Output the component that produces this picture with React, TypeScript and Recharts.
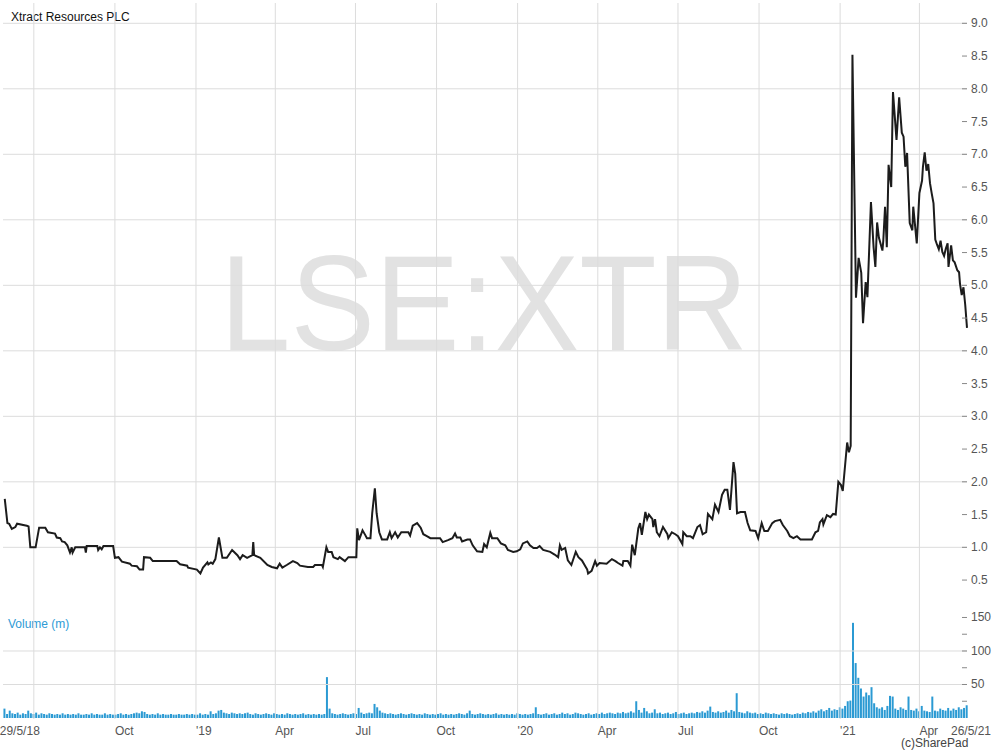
import { ComposedChart, Line, Bar, XAxis, YAxis, ReferenceLine } from 'recharts';

// day 0 = 29/5/18
const price2018: [number, number][] = [
  [0, 1.74], [3, 1.37], [5, 1.36], [8, 1.28], [12, 1.31], [14, 1.36], [25, 1.33], [27, 1.32], [29, 1.0],
  [35, 1.0], [39, 1.3], [46, 1.3], [49, 1.23], [57, 1.21], [59, 1.15], [63, 1.14], [65, 1.09], [68, 1.08],
  [71, 1.03], [74, 0.92], [76, 1.0], [77, 0.92], [80, 1.0], [91, 1.0], [92, 0.92], [93, 1.02], [105, 1.02],
  [106, 0.96], [108, 1.0], [110, 0.97], [112, 1.02], [123, 1.02], [125, 0.84], [129, 0.85], [133, 0.78],
  [139, 0.76], [142, 0.75], [144, 0.72], [150, 0.71], [153, 0.66], [157, 0.66], [158, 0.85], [165, 0.84],
  [168, 0.79], [195, 0.79], [199, 0.74], [207, 0.72], [208, 0.69],
];
const price2019: [number, number][] = [
  [218, 0.66], [222, 0.6], [225, 0.69], [230, 0.77], [231, 0.74], [234, 0.77], [236, 0.75], [239, 0.82],
  [243, 1.15], [247, 0.84], [252, 0.84], [258, 0.96], [264, 0.88], [267, 0.82], [270, 0.88], [275, 0.84],
  [281, 0.88], [282, 1.08], [283, 0.88], [290, 0.84], [298, 0.73], [303, 0.7], [309, 0.68], [312, 0.75],
  [315, 0.69], [320, 0.73], [327, 0.79], [332, 0.76], [335, 0.72], [344, 0.7], [350, 0.7], [352, 0.73],
  [360, 0.73], [361, 0.7], [365, 1.0], [367, 0.93], [371, 0.93], [373, 0.85], [378, 0.82], [380, 0.85],
  [386, 0.79], [390, 0.85], [399, 0.85], [400, 1.29], [402, 1.11], [406, 1.26], [409, 1.19], [411, 1.14],
  [415, 1.14], [417, 1.52], [420, 1.9], [422, 1.52], [425, 1.23], [428, 1.12], [434, 1.12], [437, 1.23],
  [439, 1.14], [443, 1.23], [446, 1.15], [450, 1.23], [458, 1.23], [460, 1.18], [463, 1.33], [468, 1.37],
  [472, 1.3], [475, 1.2], [479, 1.17], [483, 1.14], [494, 1.14], [497, 1.08], [503, 1.11], [508, 1.14],
  [511, 1.21], [513, 1.15], [517, 1.15], [519, 1.09], [525, 1.12], [528, 1.12], [531, 1.03], [536, 0.94],
  [542, 0.93], [544, 1.05], [547, 1.0], [551, 1.22], [553, 1.14], [559, 1.14], [563, 1.06], [568, 1.03],
  [571, 0.96], [577, 0.93],
];
const price2020: [number, number][] = [
  [581, 0.94], [585, 0.97], [588, 1.06], [593, 1.09], [596, 1.03], [600, 0.99], [604, 0.99], [607, 1.02],
  [611, 0.96], [619, 0.93], [624, 0.89], [628, 0.85], [630, 1.03], [632, 0.96], [636, 0.99], [639, 0.8],
  [643, 0.73], [645, 0.81], [648, 0.93], [651, 0.85], [655, 0.8], [661, 0.66], [662, 0.6], [666, 0.64],
  [670, 0.79], [672, 0.72], [675, 0.76], [683, 0.75], [689, 0.82], [693, 0.79], [696, 0.76], [701, 0.72],
  [702, 0.79], [707, 0.79], [710, 0.72], [712, 1.04], [715, 0.88], [719, 1.29], [721, 1.37], [723, 1.19],
  [727, 1.54], [729, 1.43], [731, 1.5], [735, 1.43], [736, 1.31], [738, 1.43], [740, 1.23], [743, 1.17],
  [747, 1.31], [752, 1.2], [753, 1.14], [757, 1.23], [761, 1.2], [764, 1.17], [769, 1.05], [770, 1.23],
  [774, 1.17], [778, 1.17], [781, 1.14], [786, 1.31], [789, 1.34], [792, 1.2], [796, 1.23], [798, 1.51],
  [803, 1.43], [806, 1.65], [810, 1.54], [814, 1.8], [817, 1.88], [820, 1.88], [823, 1.57], [827, 2.3],
  [829, 2.12], [831, 1.52], [835, 1.54], [840, 1.54], [843, 1.37], [846, 1.26], [852, 1.25], [855, 1.14],
  [859, 1.37], [862, 1.25], [866, 1.25], [871, 1.37], [874, 1.4], [880, 1.42], [883, 1.34], [888, 1.25],
  [891, 1.17], [895, 1.14], [899, 1.17], [903, 1.12], [916, 1.12], [920, 1.23], [923, 1.25], [925, 1.38],
  [928, 1.43], [929, 1.35], [933, 1.49], [937, 1.46], [940, 1.51], [943, 1.5],
];
const price2021: [number, number][] = [
  [946, 2.0], [949, 1.95], [951, 1.86], [956, 2.6], [958, 2.45], [960, 2.55], [962, 8.52], [966, 4.81],
  [969, 5.42], [972, 5.19], [974, 4.42], [977, 5.05], [979, 4.82], [980, 5.19], [983, 6.27], [986, 5.58],
  [988, 5.28], [990, 5.96], [992, 5.73], [996, 5.53], [997, 5.68], [999, 6.2], [1001, 5.58], [1003, 6.84],
  [1006, 6.5], [1008, 7.95], [1012, 7.22], [1015, 7.87], [1018, 7.33], [1020, 7.27], [1022, 6.81],
  [1024, 7.02], [1027, 5.95], [1030, 5.84], [1031, 6.2], [1035, 5.64], [1038, 6.41], [1041, 6.6],
  [1042, 6.81], [1044, 7.03], [1046, 6.75], [1048, 6.85], [1050, 6.56], [1052, 6.4], [1054, 6.25],
  [1056, 5.7], [1058, 5.62], [1060, 5.55], [1062, 5.68], [1064, 5.51], [1066, 5.45], [1068, 5.56],
  [1070, 5.64], [1071, 5.28], [1073, 5.5], [1074, 5.61], [1076, 5.38], [1078, 5.35], [1081, 5.23],
  [1083, 5.2], [1084, 5.03], [1086, 4.85], [1088, 4.97], [1090, 4.7], [1092, 4.35],
];

// volume (m), one bar every 3 days from 29/5/18
const volumeStep = 3;
const volumes = [
  14, 6, 11, 7, 6, 8, 5, 7, 6, 11,
  7, 6, 8, 5, 7, 6, 5, 7, 6, 5,
  6, 5, 7, 5, 6, 5, 6, 5, 7, 5,
  5, 6, 5, 7, 5, 6, 5, 5, 7, 5,
  6, 5, 5, 6, 7, 5, 6, 5, 6, 7,
  8, 7, 10, 9, 6, 5, 6, 5, 7, 5,
  6, 5, 5, 6, 5, 5, 6, 5, 5, 6,
  5, 6, 5, 5, 7, 5, 6, 5, 10, 6,
  7, 11, 12, 8, 7, 6, 8, 7, 6, 7,
  6, 7, 8, 6, 5, 7, 6, 5, 6, 7,
  6, 5, 7, 6, 5, 6, 5, 7, 6, 5,
  6, 5, 6, 7, 5, 6, 5, 6, 5, 6,
  5, 6, 61, 14, 7, 6, 5, 6, 7, 6,
  5, 6, 7, 6, 15, 8, 6, 7, 8, 7,
  21, 16, 11, 8, 7, 6, 7, 6, 5, 6,
  7, 6, 5, 6, 7, 6, 5, 6, 5, 7,
  6, 5, 6, 5, 6, 7, 5, 6, 5, 6,
  5, 6, 7, 6, 5, 7, 11, 6, 5, 6,
  7, 6, 5, 6, 5, 6, 7, 5, 6, 5,
  6, 5, 6, 5, 7, 6, 5, 6, 5, 6,
  7, 16, 6, 5, 6, 7, 5, 6, 7, 5,
  6, 8, 6, 7, 5, 6, 8, 7, 6, 5,
  6, 7, 5, 6, 7, 6, 8, 6, 7, 8,
  7, 6, 8, 7, 9, 7, 8, 10, 8, 25,
  12, 8, 15, 10, 7, 8, 13, 7, 8, 6,
  7, 8, 6, 7, 9, 6, 7, 8, 6, 7,
  8, 7, 9, 8, 10, 8, 11, 17, 9, 8,
  10, 8, 9, 11, 8, 12, 10, 37, 9, 8,
  7, 10, 8, 7, 8, 6, 7, 6, 8, 7,
  6, 7, 6, 5, 7, 6, 7, 6, 5, 6,
  7, 6, 8, 7, 9, 8, 10, 8, 11, 13,
  10, 12, 15, 11, 13, 12, 16, 14, 18, 25,
  26, 142, 82, 60, 44, 32, 38, 34, 46, 22,
  16, 14, 16, 12, 18, 33, 32, 14, 12, 16,
  14, 12, 32, 12, 11, 14, 10, 18, 11, 10,
  9, 32, 11, 10, 14, 12, 11, 15, 11, 14,
  12, 16, 13, 15, 19,
];

const gridDays = [33, 125, 217, 307, 398, 490, 582, 673, 764, 856, 948, 1038];
const tickDays = [0, 125, 217, 307, 398, 490, 582, 673, 764, 856, 948, 1038, 1092];
const tickLabels = ['29/5/18', 'Oct', "'19", 'Apr', 'Jul', 'Oct', "'20", 'Apr', 'Jul', 'Oct', "'21", 'Apr', '26/5/21'];
const priceTicks = [0.5, 1, 1.5, 2, 2.5, 3, 3.5, 4, 4.5, 5, 5.5, 6, 6.5, 7, 7.5, 8, 8.5, 9];
const priceGrid = [1, 2, 3, 4, 5, 6, 7, 8, 9];
const volumeTicks = [25, 50, 75, 100, 125, 150];
const volumeLabels = [50, 100, 150];
const volumeGrid = [50, 100];

const priceData = [...price2018, ...price2019, ...price2020, ...price2021].map(([day, price]) => ({ day, price }));
const volumeData = volumes.map((volume, i) => ({ day: i * volumeStep, volume }));

const FONT = '"Liberation Sans", Arial, Helvetica, sans-serif';
const GRID = '#dcdcdc';
const DAY_DOMAIN: [number, number] = [-2, 1092];
const PRICE_DOMAIN: [number, number] = [-1.621, 9.31];
const VOLUME_DOMAIN: [number, number] = [-1.5, 1067];
const MARGIN = { top: 3, right: 0, bottom: 0, left: 3 };

const DateTick = (props: any) => {
  const { x, y, payload, index } = props;
  const i = tickDays.indexOf(payload.value);
  let anchor: 'start' | 'end' = 'start';
  let dx = 0;
  if (index === 0) dx = -5;
  if (i === tickDays.length - 1) {
    anchor = 'end';
    dx = 24;
  }
  return (
    <text x={x + dx} y={y + 16} textAnchor={anchor} fill="#555" fontSize={12} fontFamily={FONT}>
      {tickLabels[i]}
    </text>
  );
};

const PriceTick = (props: any) => {
  const { x, y, payload } = props;
  return (
    <g>
      <line x1={x - 5} x2={x} y1={y} y2={y} stroke="#888" />
      <text x={x + 4} y={y + 4} fill="#555" fontSize={12} fontFamily={FONT}>
        {payload.value.toFixed(1)}
      </text>
    </g>
  );
};

const VolumeTick = (props: any) => {
  const { x, y, payload } = props;
  return (
    <g>
      <line x1={x - 5} x2={x} y1={y} y2={y} stroke="#888" />
      {volumeLabels.includes(payload.value) && (
        <text x={x + 4} y={y + 4} fill="#555" fontSize={12} fontFamily={FONT}>
          {payload.value}
        </text>
      )}
    </g>
  );
};

export default function App() {
  return (
    <div style={{ position: 'absolute', left: 0, top: 0, width: 1000, height: 751, background: '#fff' }}>
      <svg width={1000} height={751} style={{ position: 'absolute', left: 0, top: 0 }}>
        <text x={484} y={350} textAnchor="middle" fontSize={136} fill="#e2e2e2" fontFamily={FONT}
          textLength={528} lengthAdjust="spacingAndGlyphs">
          LSE:XTR
        </text>
        <text x={11} y={21} fontSize={12} fill="#111" fontFamily={FONT}>Xtract Resources PLC</text>
        <text x={8} y={628} fontSize={12} fill="#2e9bd6" fontFamily={FONT}>Volume (m)</text>
        <text x={901} y={747} fontSize={12} fill="#444" fontFamily={FONT}>(c)SharePad</text>
      </svg>

      {/* volume panel, vertical gridlines and date axis */}
      <div style={{ position: 'absolute', left: 0, top: 0 }}>
        <ComposedChart width={1000} height={751} data={volumeData} margin={MARGIN}>
          <XAxis dataKey="day" type="number" domain={DAY_DOMAIN} ticks={tickDays} interval={0}
            tick={<DateTick />} tickSize={0} tickMargin={0} axisLine={false} tickLine={false} height={32} />
          <YAxis yAxisId="vol" orientation="right" width={33} type="number" domain={VOLUME_DOMAIN}
            ticks={volumeTicks} interval={0} tick={<VolumeTick />} tickSize={0} tickMargin={0}
            axisLine={false} tickLine={false} />
          {gridDays.map((d) => (
            <ReferenceLine key={'x' + d} x={d} yAxisId="vol" stroke={GRID} />
          ))}
          {volumeGrid.map((v) => (
            <ReferenceLine key={'v' + v} y={v} yAxisId="vol" stroke={GRID} />
          ))}
          <Bar dataKey="volume" yAxisId="vol" fill="#2b9ad3" barSize={2} isAnimationActive={false} />
        </ComposedChart>
      </div>

      {/* price panel */}
      <div style={{ position: 'absolute', left: 0, top: 0 }}>
        <ComposedChart width={1000} height={751} data={priceData} margin={MARGIN}>
          <XAxis dataKey="day" type="number" domain={DAY_DOMAIN} ticks={tickDays} tick={false}
            axisLine={false} tickLine={false} height={32} />
          <YAxis yAxisId="price" orientation="right" width={33} type="number" domain={PRICE_DOMAIN}
            ticks={priceTicks} interval={0} tick={<PriceTick />} tickSize={0} tickMargin={0}
            axisLine={false} tickLine={false} />
          {priceGrid.map((p) => (
            <ReferenceLine key={'p' + p} y={p} yAxisId="price" stroke={GRID} />
          ))}
          <Line dataKey="price" yAxisId="price" type="linear" stroke="#1c1c1c"
            strokeWidth={2} dot={false} isAnimationActive={false} />
        </ComposedChart>
      </div>
    </div>
  );
}
